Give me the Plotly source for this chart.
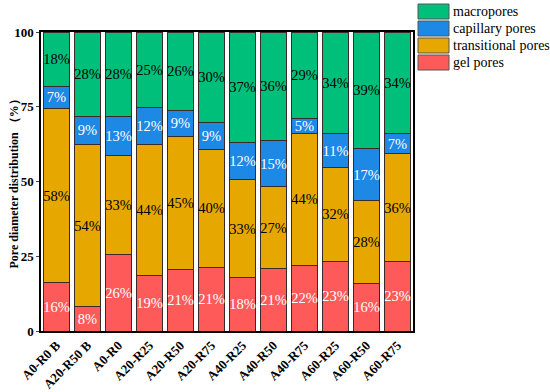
import plotly.graph_objects as go

categories = ["A0-R0 B", "A20-R50 B", "A0-R0", "A20-R25", "A20-R50", "A20-R75",
              "A40-R25", "A40-R50", "A40-R75", "A60-R25", "A60-R50", "A60-R75"]
gel = [16.2, 8.1, 25.6, 18.6, 20.6, 21.2, 17.9, 20.9, 21.9, 23.2, 15.9, 23.2]
transitional = [58.2, 54.3, 33.0, 43.8, 44.6, 39.6, 32.7, 27.3, 44.3, 31.6, 27.7, 36.0]
capillary = [7.4, 9.4, 13.2, 12.3, 8.7, 8.8, 12.4, 15.4, 4.9, 11.1, 17.3, 6.7]
macro = [18.2, 28.2, 28.2, 25.3, 26.1, 30.4, 37.0, 36.4, 28.9, 34.1, 39.1, 34.1]
y_ticks = [0, 25, 50, 75, 100]

series = [
    ("gel pores", gel, "#FF5A5A", "white"),
    ("transitional pores", transitional, "#E6A800", "black"),
    ("capillary pores", capillary, "#1E88E5", "white"),
    ("macropores", macro, "#00BF7A", "black"),
]

serif = "Liberation Serif, Times New Roman, serif"

W, H = 550, 392
ML, MR, MT, MB = 41, 137, 32, 61
PW, PH = W - ML - MR, H - MT - MB

fig = go.Figure()
for name, vals, color, tcolor in series:
    fig.add_trace(go.Bar(
        x=categories, y=vals, name=name,
        marker=dict(color=color, line=dict(color="#3a2a2a", width=1)),
        text=[f"{round(v):d}%" for v in vals],
        textposition="inside", insidetextanchor="middle",
        constraintext="none", textangle=0,
        textfont=dict(family=serif, size=14.5, color=tcolor),
        showlegend=False, hoverinfo="x+y+name",
    ))


def to_px(p):
    return (p - ML) / PW


def to_py(p):
    return (H - MB - p) / PH


# custom legend (top to bottom: macropores, capillary, transitional, gel)
for i, (name, vals, color, tcolor) in enumerate(reversed(series)):
    px_top = 4 + i * 17
    px_bot = px_top + 15
    fig.add_shape(type="rect", xref="paper", yref="paper",
                  x0=to_px(418), x1=to_px(449), y0=to_py(px_bot), y1=to_py(px_top),
                  fillcolor=color, line=dict(color="#555555", width=1))
    fig.add_annotation(xref="paper", yref="paper", x=to_px(451), y=to_py(px_top + 7.5),
                       text=name, showarrow=False, xanchor="left", yanchor="middle",
                       font=dict(family=serif, size=14, color="black"))

# y-axis title
fig.add_annotation(xref="paper", yref="paper", x=to_px(13), y=0.5,
                   text="<b>Pore diameter distribution （%）</b>", textangle=-90,
                   showarrow=False, xanchor="center", yanchor="middle",
                   font=dict(family=serif, size=12, color="black"))

fig.update_layout(
    barmode="stack",
    bargap=0.19,
    width=W, height=H,
    margin=dict(l=ML, r=MR, t=MT, b=MB),
    plot_bgcolor="white", paper_bgcolor="white",
    font=dict(family=serif, color="black"),
    xaxis=dict(
        automargin=False,
        tickangle=-45, showline=True, linecolor="black", linewidth=1.5, mirror=True,
        ticks="", tickfont=dict(family=serif, size=13, color="black", weight="bold"),
    ),
    yaxis=dict(
        automargin=False,
        range=[0, 100], tickvals=y_ticks, ticks="outside", ticklen=3,
        showline=True, linecolor="black", linewidth=1.5, mirror=True,
        showgrid=False, zeroline=False,
        tickfont=dict(family=serif, size=13, color="black", weight="bold"),
    ),
)

fig.write_html("out.html", config={"displayModeBar": False},
               post_script="document.body.style.margin='0px';document.body.style.overflow='hidden';")
